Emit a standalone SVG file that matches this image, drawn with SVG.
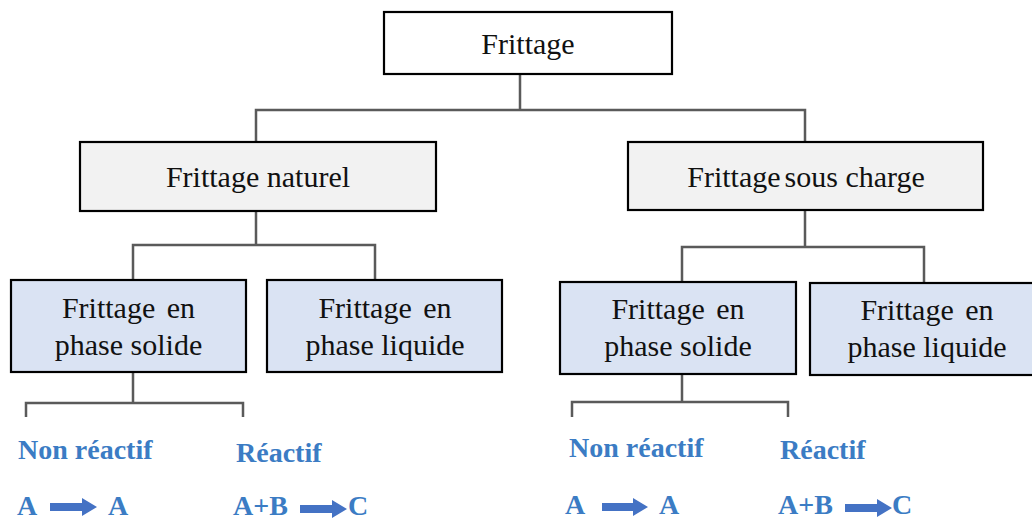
<svg xmlns="http://www.w3.org/2000/svg" width="1032" height="520" viewBox="0 0 1032 520">
<style>
.box{stroke:#000;stroke-width:2.2}
.root{fill:#fff}
.l2{fill:#f2f2f2}
.l3{fill:#dae3f3}
.t{font-size:30px;fill:#111;text-anchor:middle}
.b{font-size:28px;font-weight:bold;fill:#3b7cc4}
.arr{fill:#4472c4}
#connectors path{fill:none;stroke:#5a5a5a;stroke-width:2.5}
</style>
<rect width="1032" height="520" fill="#fff"/>
<g id="connectors">
<path d="M520 74V110M256 142V110H805V142"/>
<path d="M256 211V245M133 280V245H375V280"/>
<path d="M805 211V247M682 283V247H924V283"/>
<path d="M133 372V403M26 417V403H243V417"/>
<path d="M682 374V402M572 417V402H788V417"/>
</g>
<g font-family="Liberation Serif, Times New Roman, serif">
<g id="n-frittage">
<rect class="box root" x="384" y="12" width="288" height="62"/>
<text class="t" x="528" y="54">Frittage</text>
</g>
<g id="n-naturel">
<rect class="box l2" x="80" y="142" width="356" height="69"/>
<text class="t" x="258" y="187">Frittage naturel</text>
</g>
<g id="n-sous-charge">
<rect class="box l2" x="628" y="142" width="355" height="68"/>
<text class="t" x="806" y="187">Frittage<tspan dx="4">sous charge</tspan></text>
</g>
<g id="n-nat-solide">
<rect class="box l3" x="11" y="280" width="235" height="92"/>
<text class="t" x="128.5" y="318" word-spacing="4">Frittage en</text>
<text class="t" x="128.5" y="355">phase solide</text>
</g>
<g id="n-nat-liquide">
<rect class="box l3" x="267" y="280" width="235" height="92"/>
<text class="t" x="385" y="318" word-spacing="4">Frittage en</text>
<text class="t" x="385" y="355">phase liquide</text>
</g>
<g id="n-sc-solide">
<rect class="box l3" x="560" y="282" width="236" height="92"/>
<text class="t" x="678" y="319" word-spacing="4">Frittage en</text>
<text class="t" x="678" y="356">phase solide</text>
</g>
<g id="n-sc-liquide">
<rect class="box l3" x="810" y="283" width="236" height="92"/>
<text class="t" x="927" y="320" word-spacing="4">Frittage en</text>
<text class="t" x="927" y="357">phase liquide</text>
</g>
<g id="n-nat-nonreactif">
<text class="b" x="18" y="459">Non réactif</text>
<text class="b" x="17" y="515">A</text>
<polygon class="arr" points="50,503 82,503 82,498 97,507 82,516 82,511 50,511"/>
<text class="b" x="108" y="515">A</text>
</g>
<g id="n-nat-reactif">
<text class="b" x="236" y="462">Réactif</text>
<text class="b" x="233" y="515">A+B</text>
<polygon class="arr" points="300,505 332,505 332,500 347,509 332,518 332,513 300,513"/>
<text class="b" x="348" y="515">C</text>
</g>
<g id="n-sc-nonreactif">
<text class="b" x="569" y="457">Non réactif</text>
<text class="b" x="565" y="514">A</text>
<polygon class="arr" points="602,503 633,503 633,498 648,507 633,516 633,511 602,511"/>
<text class="b" x="659" y="514">A</text>
</g>
<g id="n-sc-reactif">
<text class="b" x="780" y="459">Réactif</text>
<text class="b" x="778" y="514">A+B</text>
<polygon class="arr" points="845,504 877,504 877,499 892,508 877,517 877,512 845,512"/>
<text class="b" x="892" y="514">C</text>
</g>
</g>
</svg>
